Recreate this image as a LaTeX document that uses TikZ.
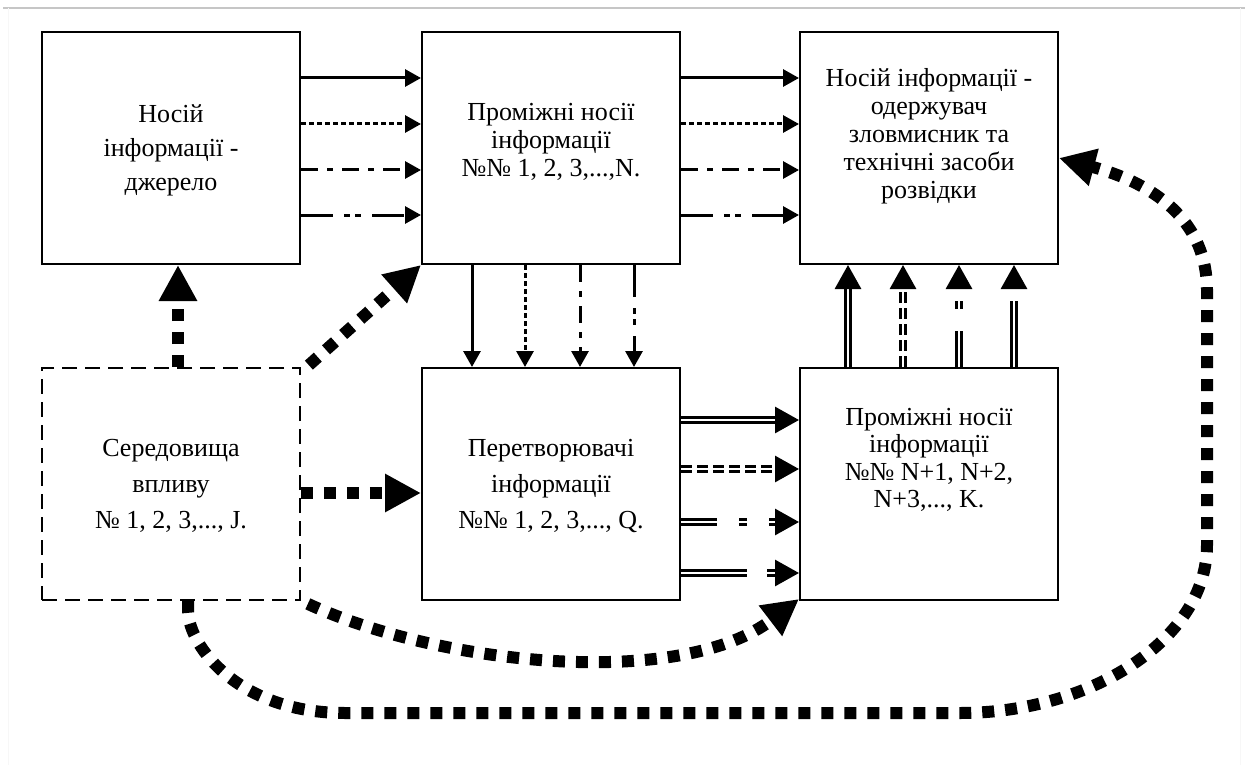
\documentclass[tikz,border=0pt]{standalone}
\usepackage{fontspec}
\setmainfont{Liberation Serif}
\usetikzlibrary{arrows.meta,calc}
\tikzset{
  box/.style={draw, line width=2pt, minimum width=258pt, minimum height=232pt, inner sep=0pt},
  dbox/.style={box, line width=1.7pt, dash pattern=on 15pt off 8pt},
  txt/.style={align=center, inner sep=0pt, font=\fontsize{26}{#1}\selectfont},
  arr/.style={line width=3pt, -{Triangle[length=16pt,width=17pt]}},
  aone/.style={arr},
  atwo/.style={arr, dash pattern=on 5pt off 3pt},
  athree/.style={arr, dash pattern=on 17pt off 9pt on 6pt off 9pt},
  afour/.style={arr, dash pattern=on 32pt off 11pt on 6pt off 5pt on 6pt off 11pt},
  darr/.style={double, line width=3pt, double distance=2pt, -{Triangle[length=24pt,width=26pt]}},
  done/.style={darr},
  dtwo/.style={darr, dash pattern=on 11pt off 5pt},
  dthree/.style={darr, dash pattern=on 36pt off 22pt on 8pt off 22pt},
  dfour/.style={darr, dash pattern=on 66pt off 20pt},
  fat/.style={line width=12pt, dash pattern=on 12pt off 11pt, -{Triangle[length=36pt,width=36pt]}}
}
\begin{document}
\begin{tikzpicture}[x=1pt,y=-1pt]
\useasboundingbox (0,0) rectangle (1248,765);
\draw[gray!45, line width=1.2pt] (3,8) -- (1245,8);
\draw[gray!6, line width=0.8pt] (8,8) -- (8,765) (1240,8) -- (1240,765);

\node[box]  (b1) at (171,148) {};
\node[box]  (b2) at (551,148) {};
\node[box]  (b3) at (929,148) {};
\node[dbox] (b4) at (171,484) {};
\node[box]  (b5) at (551,484) {};
\node[box]  (b6) at (929,484) {};

\node[txt=34] (t1) at (171,150) {Носій\\інформації -\\джерело};
\node[txt=28] (t2) at (551,142) {Проміжні носії\\інформації\\№№ 1, 2, 3,...,N.};
\node[txt=28] (t3) at (929,136) {Носій інформації -\\одержувач\\зловмисник та\\технічні засоби\\розвідки};
\node[txt=36] (t4) at (171,486) {Середовища\\впливу\\№ 1, 2, 3,..., J.};
\node[txt=36] (t5) at (551,486) {Перетворювачі\\інформації\\№№ 1, 2, 3,..., Q.};
\node[txt=27.5] (t6) at (929,460) {Проміжні носії\\інформації\\№№ N+1, N+2,\\N+3,..., K.};

\foreach \s/\st in {70/aone, 24/atwo, -22/athree, -67/afour} {
  \draw[\st] ([yshift=\s pt]b1.east) -- ([yshift=\s pt]b2.west);
  \draw[\st] ([yshift=\s pt]b2.east) -- ([yshift=\s pt]b3.west);
}
\foreach \s/\st in {-79/aone, -26/atwo, 29/athree, 83/afour}
  \draw[\st] ([xshift=\s pt]b2.south) -- ([xshift=\s pt]b5.north);
\foreach \s/\st in {64/done, 15/dtwo, -38/dthree, -89/dfour}
  \draw[\st] ([yshift=\s pt]b5.east) -- ([yshift=\s pt]b6.west);
\foreach \s/\st in {-81/done, -26/dtwo, 30/dthree, 85/dfour}
  \draw[\st] ([xshift=\s pt]b6.north) -- ([xshift=\s pt]b3.south);

% thick dotted influences
\draw[fat] ([xshift=7pt]b4.north) -- ([xshift=7pt]b1.south);
\draw[fat] ([xshift=8pt,yshift=2pt]b4.north east) -- (b2.south west);
\draw[fat] ([yshift=-9pt]b4.east) -- ([yshift=-9pt]b5.west);
\draw[fat] ([xshift=7pt,yshift=-3pt]b4.south east) .. controls (440,665) and (680,690) .. ([yshift=2pt]b6.south west);
\draw[fat] ([xshift=17pt]b4.south) -- (188,612) .. controls (190,648) and (240,713) .. (345,713)
  -- (960,713) .. controls (1090,713) and (1207,640) .. (1207,545)
  -- (1207,290) .. controls (1207,225) and (1160,185) .. ([yshift=-10pt]b3.east);
\end{tikzpicture}
\end{document}
